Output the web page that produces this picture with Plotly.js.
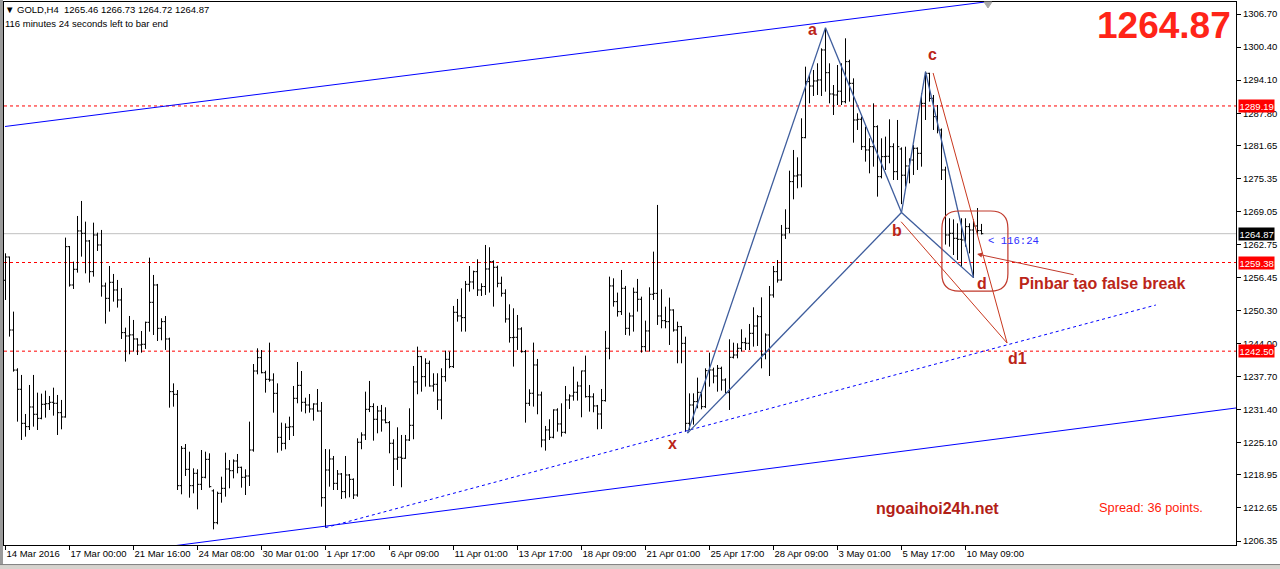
<!DOCTYPE html>
<html><head><meta charset="utf-8">
<script src="https://cdn.plot.ly/plotly-3.0.1.min.js"></script>
<style>html,body{margin:0;padding:0;background:#fff;overflow:hidden}#chart{width:1280px;height:569px}</style>
</head><body><div id="chart"></div>
<script>
// ---------- data ----------
const symbol = "GOLD,H4";
const timeLabels = ["14 Mar 2016","17 Mar 00:00","21 Mar 16:00","24 Mar 08:00","30 Mar 01:00","1 Apr 17:00","6 Apr 09:00","11 Apr 01:00","13 Apr 17:00","18 Apr 09:00","21 Apr 01:00","25 Apr 17:00","28 Apr 09:00","3 May 01:00","5 May 17:00","10 May 09:00"];
const barsPerLabel = 16;

const open = [1256.0,1260.43,1246.53,1238.9,1235.24,1228.76,1228.13,1231.87,1230.48,1229.71,1232.38,1232.5,1232.76,1232.57,1230.79,1229.97,1262.4,1255.1,1258.09,1265.39,1264.94,1263.48,1257.64,1264.62,1262.72,1254.91,1252.56,1255.61,1254.15,1252.25,1246.03,1245.39,1245.6,1244.82,1243.68,1243.81,1247.99,1251.8,1255.1,1246.85,1248.12,
1244.82,1234.79,1234.28,1216.89,1224.0,1220.0,1216.89,1219.24,1217.14,1218.48,1221.9,1215.9,1209.84,1215.43,1216.38,1220.06,1219.74,1221.59,1220.38,1218.48,1218.73,1223.68,1238.72,1241.26,1238.4,1237.14,1237.01,1234.47,1226.09,1224.95,1228.0,1228.1,1233.52,1235.99,1232.76,1232.25,1231.49,1232.44,1231.1,1214.6,1219.87,1221.97,
1217.33,1219.11,1215.75,1218.92,1218.09,1215.11,1225.15,1226.54,1231.43,1231.94,1229.53,1231.11,1229.4,1228.89,1224.96,1221.97,1222.3,1222.1,1225.59,1228.38,1236.64,1241.46,1237.65,1240.19,1235.87,1236.19,1233.21,1237.65,1240.95,1239.56,1249.9,1249.2,1248.88,1255.23,1255.68,1257.64,1254.15,1254.8,1258.15,1259.55,1258.47,
1255.42,1253.52,1248.63,1245.08,1245.14,1246.73,1242.41,1232.57,1234.48,1239.87,1234.16,1225.59,1227.5,1226.1,1231.3,1228.64,1227.05,1233.21,1233.97,1234.67,1235.87,1238.73,1233.84,1233.8,1232.07,1230.54,1233.08,1243.05,1254.92,1251.93,1250.03,1254.47,1246.85,1249.2,1253.71,1252.38,1243.36,1246.35,1253.33,1253.5,1249.2,
1248.31,1248.12,1250.34,1246.53,1247.17,1243.99,1228.76,1232.25,1232.89,1234.66,1231.93,1238.79,1238.92,1237.77,1239.23,1237.01,1234.6,1241.33,1241.77,1243.04,1244.12,1244.0,1245.9,1247.29,1249.07,1241.9,1245.58,1253.2,1257.64,1256.05,1264.62,1265.89,1274.78,1275.86,1276.05,1283.16,1293.82,1292.99,1293.95,1294.14,1299.85,
1295.53,1291.47,1291.28,1292.0,1290.0,1297.63,1293.5,1286.52,1286.65,1281.44,1280.81,1281.44,1285.25,1275.73,1279.54,1279.6,1281.44,1276.68,1281.0,1276.0,1277.76,1278.9,1281.13,1280.17,1289.69,1295.4,1290.64,1287.15,1284.62,1277.0,1264.62,1264.94,1263.99,1263.8,1263.67,1266.21,1265.57,1266.34,1265.46];
const high = [1261.13,1260.5,1250.03,1239.24,1237.97,1230.54,1236.06,1237.97,1234.6,1234.41,1234.98,1233.97,1235.55,1234.16,1233.21,1264.12,1262.53,1259.55,1268.24,1271.1,1267.16,1263.67,1266.97,1265.07,1265.58,1255.55,1258.72,1257.2,1256.06,1254.53,1246.98,1249.2,1248.44,1244.95,1246.34,1248.12,1260.31,1257.01,1255.3,1248.76,1249.2,
1245.07,1236.37,1235.1,1224.44,1224.82,1223.36,1220.19,1220.0,1223.68,1223.36,1223.05,1216.19,1215.75,1218.6,1223.17,1221.78,1221.9,1222.92,1220.51,1220.0,1229.08,1240.05,1243.04,1242.72,1238.78,1244.12,1238.28,1236.37,1228.89,1228.76,1230.03,1235.87,1240.44,1238.72,1233.64,1234.34,1232.57,1235.29,1232.82,1223.87,1223.81,1222.54,
1219.87,1219.3,1222.54,1219.11,1218.28,1225.91,1227.05,1234.79,1236.83,1232.57,1232.07,1232.26,1231.81,1229.2,1225.72,1228.0,1226.54,1226.54,1231.62,1239.68,1243.36,1241.6,1241.14,1240.7,1238.29,1238.29,1239.24,1242.6,1242.41,1251.11,1252.44,1254.47,1255.87,1258.72,1257.83,1259.99,1255.42,1262.72,1262.28,1259.8,1258.79,
1256.69,1254.28,1251.42,1250.66,1249.39,1247.05,1242.73,1235.24,1244.13,1241.02,1234.79,1228.26,1229.53,1231.43,1231.62,1232.57,1235.87,1234.29,1239.56,1236.7,1238.79,1241.65,1236.06,1234.48,1232.26,1235.3,1246.35,1256.69,1256.37,1253.65,1257.96,1254.92,1249.84,1254.6,1256.25,1252.88,1248.31,1254.66,1261.45,1270.34,1254.28,
1250.97,1252.69,1250.47,1248.12,1247.3,1245.26,1234.47,1234.47,1237.46,1234.98,1239.23,1242.22,1239.36,1239.87,1239.55,1237.33,1244.76,1244.12,1244.0,1246.66,1245.07,1247.68,1250.85,1249.39,1252.75,1245.9,1254.91,1258.72,1259.86,1266.53,1269.51,1276.87,1280.81,1279.41,1286.84,1296.67,1295.09,1296.04,1297.31,1300.16,1303.97,
1297.31,1293.18,1296.99,1297.31,1302.07,1298.0,1294.45,1287.79,1287.15,1285.25,1283.03,1289.69,1285.5,1283.03,1283.35,1286.65,1282.08,1286.52,1281.3,1281.44,1279.22,1281.76,1281.3,1291.6,1295.72,1295.5,1291.28,1289.37,1284.9,1277.63,1267.8,1267.6,1266.84,1267.8,1267.8,1266.84,1267.6,1269.76,1266.73];
const low = [1252.25,1245.27,1238.6,1229.08,1225.59,1226.22,1227.49,1228.13,1227.49,1229.52,1229.84,1231.3,1230.22,1226.54,1227.62,1229.84,1254.79,1254.34,1257.45,1260.5,1257.32,1255.55,1256.69,1261.58,1252.88,1247.74,1250.03,1251.93,1250.79,1244.82,1240.51,1241.9,1242.41,1241.77,1242.22,1242.92,1246.22,1245.58,1244.44,1244.57,1242.73,
1231.74,1231.93,1216.06,1215.24,1218.73,1214.6,1215.43,1212.38,1216.06,1218.28,1216.51,1208.57,1209.53,1213.65,1214.79,1216.38,1218.28,1219.24,1216.51,1215.11,1216.83,1223.36,1238.09,1238.28,1234.6,1236.69,1230.79,1223.17,1223.55,1223.81,1225.58,1226.35,1232.57,1230.98,1230.66,1230.79,1229.27,1230.98,1212.89,1208.89,1216.7,1216.06,
1216.06,1214.35,1214.48,1214.67,1214.35,1214.79,1223.82,1225.59,1230.9,1225.46,1226.86,1227.18,1228.76,1223.05,1216.83,1219.88,1216.58,1222.0,1225.4,1225.72,1234.29,1234.79,1235.75,1235.75,1234.79,1231.3,1229.53,1236.7,1239.24,1239.3,1248.12,1246.22,1246.22,1253.84,1254.28,1253.01,1253.01,1253.2,1253.65,1250.98,1254.66,
1252.88,1247.93,1244.13,1239.56,1242.73,1242.22,1228.89,1232.07,1231.94,1230.48,1224.19,1223.56,1225.59,1225.9,1227.18,1226.23,1226.8,1231.49,1233.08,1233.08,1229.91,1233.65,1230.99,1230.86,1227.62,1227.69,1232.9,1240.95,1250.98,1249.08,1249.39,1245.58,1245.46,1246.22,1250.03,1242.22,1242.41,1242.41,1252.25,1247.49,1246.85,
1246.85,1243.68,1246.22,1240.19,1240.19,1227.17,1227.49,1228.5,1231.62,1231.43,1231.7,1235.74,1236.38,1234.79,1234.98,1234.47,1231.3,1241.1,1241.14,1242.41,1242.72,1242.72,1243.36,1243.49,1239.23,1240.95,1237.77,1252.69,1255.55,1255.93,1263.86,1264.94,1271.41,1273.51,1273.7,1283.03,1289.69,1291.09,1291.28,1291.09,1291.91,
1289.69,1287.47,1289.37,1289.37,1289.69,1290.01,1282.2,1284.62,1280.81,1278.59,1276.36,1277.63,1271.92,1275.4,1277.0,1278.27,1275.09,1275.09,1270.5,1273.83,1274.46,1276.05,1277.0,1277.63,1286.52,1290.01,1284.62,1283.98,1275.09,1262.8,1262.4,1260.81,1259.86,1258.59,1262.4,1261.13,1256.45,1264.62,1264.72];
const close = [1260.43,1246.53,1238.9,1235.24,1228.76,1228.13,1231.87,1230.48,1229.71,1232.38,1232.5,1232.76,1232.57,1230.79,1229.97,1262.4,1255.1,1258.09,1265.39,1264.94,1263.48,1257.64,1264.62,1262.72,1254.91,1252.56,1255.61,1254.15,1252.25,1246.03,1245.39,1245.6,1244.82,1243.68,1243.81,1247.99,1251.8,1255.1,1246.85,1248.12,1244.82,
1234.79,1234.28,1216.89,1224.0,1220.0,1216.89,1219.24,1217.14,1218.48,1221.9,1216.7,1209.84,1215.43,1216.38,1220.06,1219.74,1221.59,1220.38,1218.48,1218.73,1223.68,1238.72,1241.26,1238.4,1237.14,1237.01,1234.47,1226.09,1224.95,1228.0,1228.1,1233.52,1235.99,1232.76,1232.25,1231.49,1232.44,1231.1,1214.6,1219.87,1221.97,1217.33,
1219.11,1215.75,1218.92,1218.09,1215.11,1225.15,1226.54,1231.43,1231.94,1229.53,1231.11,1229.4,1228.89,1224.96,1221.97,1222.3,1222.1,1225.59,1228.38,1236.64,1241.46,1237.65,1240.19,1235.87,1236.19,1233.21,1237.65,1240.95,1239.56,1249.9,1249.2,1248.88,1255.23,1255.68,1257.64,1254.15,1254.8,1258.15,1259.55,1258.47,1255.42,
1253.52,1248.63,1245.08,1245.14,1246.73,1242.41,1232.57,1234.48,1239.87,1234.16,1225.59,1227.5,1226.1,1231.3,1228.64,1227.05,1233.21,1233.97,1234.67,1235.87,1238.73,1233.84,1233.8,1232.07,1230.54,1233.08,1243.05,1254.92,1251.93,1250.03,1254.47,1246.85,1249.2,1253.71,1252.38,1243.36,1246.35,1253.33,1253.5,1249.2,1248.31,
1248.12,1250.34,1246.53,1247.17,1243.99,1228.76,1232.25,1232.89,1234.66,1231.93,1238.79,1238.92,1237.77,1239.23,1237.01,1234.6,1241.33,1241.77,1243.04,1244.12,1244.0,1245.9,1247.29,1249.07,1241.9,1245.58,1253.2,1257.64,1256.05,1264.62,1265.89,1274.78,1275.86,1276.05,1283.16,1293.82,1292.99,1293.95,1294.14,1299.85,1295.53,
1291.47,1291.28,1292.0,1290.0,1297.63,1293.5,1286.52,1286.65,1281.44,1280.81,1281.44,1285.25,1275.73,1279.54,1279.6,1281.44,1276.68,1281.44,1276.0,1277.76,1278.9,1281.13,1280.17,1289.69,1295.4,1290.64,1287.15,1284.62,1277.0,1264.62,1264.94,1263.99,1263.8,1263.67,1266.21,1265.57,1266.34,1265.46,1264.87];

const yTicks = [1306.70,1300.40,1294.10,1287.80,1281.65,1275.35,1269.05,1262.75,1256.45,1250.30,1244.00,1237.70,1231.40,1225.10,1218.95,1212.65,1206.35];
const levelLines = [1289.19, 1259.38, 1242.50];
const timerText = "116:24";
const timeLeft = "116 minutes 24 seconds left to bar end";
const spreadPoints = 36;
const siteName = "ngoaihoi24h.net";
const pinbarNote = "Pinbar tạo false break";

// harmonic pattern points (bar index, price)
const patternNames = ["x","a","b","c","d"];
const patternIdx   = [170.5, 205, 224, 230, 242];
const patternPrice = [1226.9, 1304.1, 1268.9, 1295.7, 1256.5];
const d1Point = {idx: 250.4, price: 1244.05, name: "d1"};
const redStartIdx   = [231.9, 223.9];
const redStartPrice = [1295.47, 1267.15];
// channel lines (bar index, price)
const upperChannelIdx = [-0.125, 260];  const upperChannelPrice = [1285.28, 1310.45];
const lowerChannelIdx = [23.6, 323.6];  const lowerChannelPrice = [1203.61, 1233.26];
const dottedIdx = [80, 287.6];          const dottedPrice = [1208.9, 1251.29];
const boxIdx = [234.1, 250.6];          const boxPrice = [1253.95, 1269.19];
const arrowTip = {idx: 242.9, price: 1261.0};
const arrowTail = {idx: 267.4, price: 1257.0};

// ---------- build ----------
const n = close.length;
const idx = close.map((_, i) => i);
const last = n - 1;
const lastPrice = close[last];

const DARKRED = "#bb2518";
const PAT = "#3d5c9c";

const shapes = [];
levelLines.forEach(v => shapes.push({type:'line', xref:'paper', x0:0, x1:1, yref:'y', y0:v, y1:v, layer:'below',
  line:{color:'#ff0000', width:1, dash:'3px,3px'}}));
shapes.push({type:'line', xref:'paper', x0:0, x1:1, yref:'y', y0:lastPrice, y1:lastPrice, layer:'below',
  line:{color:'#c0c0c0', width:1}});
shapes.push({type:'line', xref:'x', yref:'y', x0:upperChannelIdx[0], x1:upperChannelIdx[1], y0:upperChannelPrice[0], y1:upperChannelPrice[1], line:{color:'#0000ff', width:1}});
shapes.push({type:'line', xref:'x', yref:'y', x0:lowerChannelIdx[0], x1:lowerChannelIdx[1], y0:lowerChannelPrice[0], y1:lowerChannelPrice[1], line:{color:'#0000ff', width:1}});
shapes.push({type:'line', xref:'x', yref:'y', x0:dottedIdx[0], x1:dottedIdx[1], y0:dottedPrice[0], y1:dottedPrice[1], line:{color:'#0000ff', width:1, dash:'3px,3px'}});
const segs = [[0,1],[1,2],[2,0],[2,3],[3,4],[4,2]];
segs.forEach(([p,q]) => shapes.push({type:'line', xref:'x', yref:'y', x0:patternIdx[p], y0:patternPrice[p], x1:patternIdx[q], y1:patternPrice[q], line:{color:PAT, width:1.3}}));
redStartIdx.forEach((s,k) => shapes.push({type:'line', xref:'x', yref:'y', x0:s, y0:redStartPrice[k], x1:d1Point.idx, y1:d1Point.price, line:{color:'#c8381f', width:1}}));
(function(){
  const x0=boxIdx[0], x1=boxIdx[1], y0=boxPrice[0], y1=boxPrice[1], rx=4.3, ry=3.3;
  const p = `M${x0+rx},${y1} L${x1-rx},${y1} Q${x1},${y1} ${x1},${y1-ry} L${x1},${y0+ry} Q${x1},${y0} ${x1-rx},${y0} L${x0+rx},${y0} Q${x0},${y0} ${x0},${y0+ry} L${x0},${y1-ry} Q${x0},${y1} ${x0+rx},${y1} Z`;
  shapes.push({type:'path', xref:'x', yref:'y', path:p, line:{color:'#c0392b', width:1.2}});
})();
shapes.push({type:'path', xref:'paper', yref:'paper', path:'M0.7955,1 L0.8019,1 L0.7987,0.989 Z', fillcolor:'#a8a8a8', line:{color:'#a8a8a8', width:1}});
shapes.push({type:'rect', xref:'paper', yref:'paper', x0:-0.0033, x1:-0.0008, y0:-0.045, y1:1.004, fillcolor:'#9a9a9a', line:{width:0}});
shapes.push({type:'rect', xref:'paper', yref:'paper', x0:-0.004, x1:1.04, y0:-0.046, y1:-0.036, fillcolor:'#d6d3ce', line:{color:'#808080', width:1}});

const annotations = [];
levelLines.forEach(v => annotations.push({xref:'paper', x:1, xanchor:'left', xshift:2, yref:'y', y:v, yanchor:'middle',
  text:v.toFixed(2), showarrow:false, bgcolor:'#ff0000', borderpad:0.5, font:{family:'Liberation Sans, Arial', size:9.5, color:'#ffffff'}}));
annotations.push({xref:'paper', x:1, xanchor:'left', xshift:2, yref:'y', y:lastPrice, yanchor:'middle',
  text:lastPrice.toFixed(2), showarrow:false, bgcolor:'#000000', borderpad:0.5, font:{family:'Liberation Sans, Arial', size:9.5, color:'#ffffff'}});
annotations.push({xref:'paper', yref:'paper', x:-0.0008, y:0.9853, xanchor:'left', yanchor:'middle', showarrow:false,
  text:'\u25BC ' + symbol + '\u00a0\u00a0' + [open[last],high[last],low[last],close[last]].map(v=>v.toFixed(2)).join(' '),
  font:{family:'Liberation Sans, Arial', size:9.5, color:'#000'}});
annotations.push({xref:'paper', yref:'paper', x:-0.0008, y:0.9613, xanchor:'left', yanchor:'middle', showarrow:false,
  text:timeLeft, font:{family:'Liberation Sans, Arial', size:9.5, color:'#000'}});
annotations.push({xref:'paper', yref:'paper', x:0.99756, y:0.9576, xanchor:'right', yanchor:'middle', showarrow:false,
  text:'<b>'+lastPrice.toFixed(2)+'</b>', font:{family:'Liberation Sans, Arial', size:37, color:'#ff2418'}});
const labShift = {x:[-15,-10], a:[-13,-2], b:[-5,-18], c:[7,17], d:[8,-6]};
patternNames.forEach((nm,k) => annotations.push({xref:'x', yref:'y', x:patternIdx[k], y:patternPrice[k], xshift:labShift[nm][0], yshift:labShift[nm][1],
  text:'<b>'+nm+'</b>', showarrow:false, font:{family:'Liberation Sans, Arial', size:16, color:DARKRED}}));
annotations.push({xref:'x', yref:'y', x:d1Point.idx, y:d1Point.price, xshift:10, yshift:-15, text:'<b>'+d1Point.name+'</b>', showarrow:false,
  font:{family:'Liberation Sans, Arial', size:16, color:DARKRED}});
annotations.push({xref:'x', yref:'y', x:arrowTip.idx, y:arrowTip.price, axref:'x', ayref:'y', ax:arrowTail.idx, ay:arrowTail.price,
  text:'', showarrow:true, arrowhead:2, arrowsize:1, arrowwidth:1, arrowcolor:'#c0392b'});
annotations.push({xref:'paper', yref:'paper', x:(1102-4)/1232, y:1-(283-2)/543, xanchor:'center', yanchor:'middle', showarrow:false,
  text:'<b>'+pinbarNote+'</b>', font:{family:'Liberation Sans, Arial', size:16, color:DARKRED}});
annotations.push({xref:'paper', yref:'y', x:(986-4)/1232, y:lastPrice, yshift:-7, xanchor:'left', yanchor:'middle', showarrow:false,
  text:'&lt; '+timerText, font:{family:'Liberation Mono, DejaVu Sans Mono, monospace', size:10.6, color:'#3030ff'}});
annotations.push({xref:'paper', yref:'paper', x:(937-4)/1232, y:1-(509-2)/543, xanchor:'center', yanchor:'middle', showarrow:false,
  text:'<b>'+siteName+'</b>', font:{family:'Liberation Sans, Arial', size:16, color:'#b22016'}});
annotations.push({xref:'paper', yref:'paper', x:(1151-4)/1232, y:1-(507-2)/543, xanchor:'center', yanchor:'middle', showarrow:false,
  text:'Spread: '+spreadPoints+' points.', font:{family:'Liberation Sans, Arial', size:12.8, color:'#ff1a0a'}});

const trace = {type:'ohlc', x:idx, open:open, high:high, low:low, close:close,
  increasing:{line:{color:'#000000', width:1}}, decreasing:{line:{color:'#000000', width:1}},
  tickwidth:0.45, hoverinfo:'skip', showlegend:false};

const layout = {
  width:1280, height:569,
  margin:{l:4, r:44, t:2, b:24, pad:0},
  paper_bgcolor:'#ffffff', plot_bgcolor:'#ffffff',
  showlegend:false,
  font:{family:'Liberation Sans, Arial', size:9.5, color:'#000'},
  xaxis:{type:'linear', range:[-0.375, 307.625], rangeslider:{visible:false},
    tickvals:timeLabels.map((_,k)=>k*barsPerLabel), ticktext:timeLabels,
    ticks:'outside', ticklen:4, tickcolor:'#000', ticklabelposition:'outside right', tickangle:0,
    tickfont:{family:'Liberation Sans, Arial', size:9.5, color:'#000'},
    showgrid:false, zeroline:false, showline:true, mirror:true, linecolor:'#000', linewidth:1, fixedrange:true},
  yaxis:{side:'right', range:[1205.59, 1308.985],
    tickvals:yTicks, ticktext:yTicks.map(v=>v.toFixed(2)),
    ticks:'outside', ticklen:4, tickcolor:'#000',
    tickfont:{family:'Liberation Sans, Arial', size:9.5, color:'#000'},
    showgrid:false, zeroline:false, showline:true, mirror:true, linecolor:'#000', linewidth:1, fixedrange:true},
  shapes:shapes, annotations:annotations
};

Plotly.newPlot('chart', [trace], layout, {staticPlot:true, displayModeBar:false});
</script>
</body></html>
